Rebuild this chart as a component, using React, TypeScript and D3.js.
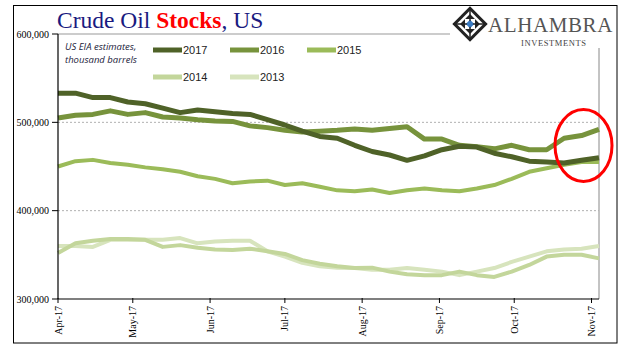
import React from 'react';
import * as d3 from 'd3';

const weeks = [
    '2017-04-01', '2017-04-08', '2017-04-15', '2017-04-22', '2017-04-29',
    '2017-05-06', '2017-05-13', '2017-05-20', '2017-05-27', '2017-06-03',
    '2017-06-10', '2017-06-17', '2017-06-24', '2017-07-01', '2017-07-08',
    '2017-07-15', '2017-07-22', '2017-07-29', '2017-08-05', '2017-08-12',
    '2017-08-19', '2017-08-26', '2017-09-02', '2017-09-09', '2017-09-16',
    '2017-09-23', '2017-09-30', '2017-10-07', '2017-10-14', '2017-10-21',
    '2017-10-28', '2017-11-04',
];

// thousand barrels
const s2017 = [533, 533, 528, 528, 523, 521, 516, 511, 514, 512, 510, 509, 503, 497, 490, 484,
    482, 474, 467, 463, 457, 462, 469, 473, 472, 465, 461, 456, 455, 454, 457, 460];
const s2016 = [505, 508, 509, 513, 509, 511, 506, 505, 503, 501.5, 501, 496, 494, 491, 489, 490,
    491, 492.5, 491, 493, 495, 481, 481, 474, 472.5, 470, 474, 469, 469, 482, 485, 492];
const s2015 = [450, 456, 457.5, 454, 452, 449, 447, 444, 439, 436, 431, 433, 434, 429, 431, 427,
    423, 422, 424, 420, 423, 425, 423, 422, 425, 429, 436, 444, 448, 452, 455, 455];
const s2014 = [352, 363, 366, 368, 368, 367, 359, 361, 358, 356, 355.5, 357, 354, 351, 344, 340,
    337, 335, 335.5, 331, 328, 327, 327, 331, 327, 325, 331, 338.5, 348, 350, 350, 346];
const s2013 = [360, 360, 359, 367, 367, 367, 367, 369, 363, 365, 366, 366, 354, 348, 341, 337,
    335.5, 335, 333, 333, 335, 333, 331, 327, 331, 335, 342, 348, 354, 356, 357, 360];

const seriesNames = ['2013', '2014', '2015', '2016', '2017'];
const seriesData = [s2013, s2014, s2015, s2016, s2017];
const seriesColors = ['#D7E4BD', '#C3D69B', '#9BBB59', '#77933C', '#4F6228'];
const seriesWidths = [4, 4, 4, 5, 5];

const yTicks = [300000, 400000, 500000, 600000];

const left = 58;
const right = 599;
const top = 34;
const bottom = 299;

export default function App() {
    const parse = d3.timeParse('%Y-%m-%d');
    const dates = weeks.map((w) => parse(w) as Date);

    const x = d3.scaleTime().domain([dates[0], dates[dates.length - 1]]).range([left, right]);
    const y = d3.scaleLinear().domain([300000, 600000]).range([bottom, top]);

    const line = d3
        .line<number>()
        .x((d, i) => x(dates[i]))
        .y((d) => y(d * 1000))
        .curve(d3.curveLinear);

    const monthTicks = d3.timeMonth.range(new Date(2017, 3, 1), new Date(2017, 10, 2));
    const fmtMonth = d3.timeFormat('%b-%y');
    const fmtVal = d3.format(',');

    const legend = [
        { name: '2017', col: 0, row: 0 },
        { name: '2016', col: 1, row: 0 },
        { name: '2015', col: 2, row: 0 },
        { name: '2014', col: 0, row: 1 },
        { name: '2013', col: 1, row: 1 },
    ];

    return (
        <svg width={641} height={361} style={{ position: 'absolute', left: 0, top: 0, background: '#fff' }}>
            <rect x={13.5} y={5.5} width={603.5} height={337.5} fill="#fff" stroke="#000" strokeWidth={1} />

            {/* frame + grid */}
            <line x1={left} x2={right} y1={top} y2={top} stroke="#999" strokeWidth={1} />
            <line x1={right} x2={right} y1={top} y2={bottom} stroke="#888" strokeWidth={1} />
            {yTicks.slice(1, 3).map((t) => (
                <line key={t} x1={left} x2={right} y1={y(t)} y2={y(t)} stroke="#b0b0b0" strokeWidth={1} strokeDasharray="2,2" />
            ))}

            {/* series */}
            {seriesData.map((s, i) => (
                <path
                    key={seriesNames[i]}
                    d={line(s) || ''}
                    fill="none"
                    stroke={seriesColors[i]}
                    strokeWidth={seriesWidths[i]}
                    strokeLinejoin="round"
                />
            ))}

            {/* axes */}
            <line x1={left} x2={left} y1={top} y2={bottom} stroke="#000" strokeWidth={1.2} />
            <line x1={left} x2={right} y1={bottom} y2={bottom} stroke="#000" strokeWidth={1.2} />
            {yTicks.map((t) => (
                <g key={t}>
                    <line x1={left - 6} x2={left} y1={y(t)} y2={y(t)} stroke="#000" />
                    <text
                        x={left - 9}
                        y={y(t) + 3.5}
                        textAnchor="end"
                        fontFamily="'Liberation Serif', serif"
                        fontSize={10}
                        fill="#000"
                    >
                        {fmtVal(t)}
                    </text>
                </g>
            ))}
            {monthTicks.map((m) => (
                <g key={m.getTime()} transform={`translate(${x(m)},${bottom})`}>
                    <line y1={-1} y2={4} stroke="#000" />
                    <text
                        transform="translate(3.5,7) rotate(-90)"
                        textAnchor="end"
                        fontFamily="'Liberation Serif', serif"
                        fontSize={10}
                        fill="#000"
                    >
                        {fmtMonth(m)}
                    </text>
                </g>
            ))}

            {/* title */}
            <text x={57} y={28} fontFamily="'Liberation Serif', serif" fontSize={23.5} fill="#1a1a80">
                Crude Oil{' '}
                <tspan fill="#ff0000" fontWeight="bold">
                    Stocks
                </tspan>
                , US
            </text>

            {/* note */}
            <text fontFamily="'Open Sans', sans-serif" fontStyle="italic" fontSize={9.5} fill="#1a1a3a">
                <tspan x={65} y={50}>US EIA estimates,</tspan>
                <tspan x={65} y={63}>thousand barrels</tspan>
            </text>

            {/* legend */}
            {legend.map((l) => {
                const i = seriesNames.indexOf(l.name);
                const lx = 153 + l.col * 77;
                const ly = 50 + l.row * 27;
                return (
                    <g key={l.name}>
                        <line x1={lx} x2={lx + 29} y1={ly} y2={ly} stroke={seriesColors[i]} strokeWidth={5} />
                        <text x={lx + 30} y={ly + 4} fontFamily="'Liberation Sans', Arial, sans-serif" fontSize={11} fill="#222">
                            {l.name}
                        </text>
                    </g>
                );
            })}

            {/* red highlight */}
            <ellipse cx={583.5} cy={145.5} rx={28.5} ry={36} fill="none" stroke="#ff0000" strokeWidth={3} />

            {/* logo */}
            <rect x={450} y={8} width={162} height={40} fill="#fff" />
            <g transform="translate(470,24)">
                <rect x={-12.5} y={-12.5} width={25} height={25} transform="rotate(45)" fill="#222" />
                <rect x={-9.5} y={-9.5} width={19} height={19} transform="rotate(45)" fill="#fff" />
                <rect x={-7} y={-7} width={14} height={14} transform="rotate(45)" fill="#222" />
                <rect x={-5} y={-5} width={10} height={10} fill="#fff" />
                <rect x={-3} y={-3} width={6} height={6} transform="rotate(45)" fill="#3a7cc4" />
                <line x1={-17} x2={17} y1={0} y2={0} stroke="#222" strokeWidth={1.5} />
                <line x1={0} x2={0} y1={-17} y2={17} stroke="#222" strokeWidth={1.5} />
                <rect x={-2.5} y={-2.5} width={5} height={5} transform="rotate(45)" fill="#3a7cc4" />
            </g>
            <text x={488} y={32} fontFamily="'Liberation Serif', serif" fontSize={21} fill="#555" letterSpacing={0.6}>
                ALHAMBRA
            </text>
            <text x={521} y={46} fontFamily="'Liberation Serif', serif" fontSize={8.5} fill="#444" letterSpacing={0.6}>
                INVESTMENTS
            </text>
        </svg>
    );
}
